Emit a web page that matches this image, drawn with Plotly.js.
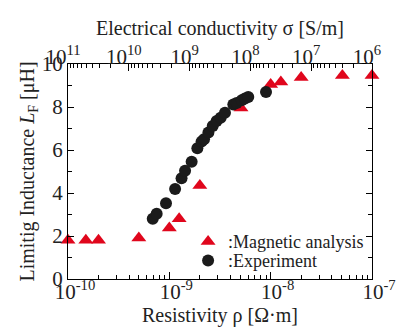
<!DOCTYPE html>
<html><head><meta charset="utf-8">
<script src="https://cdn.plot.ly/plotly-3.0.1.min.js"></script>
<style>html,body{margin:0;padding:0;background:#fff}#chart{width:397px;height:330px}</style>
</head><body><div id="chart"></div>
<script>
// Magnetic analysis (triangles)
const magResistivity = [1e-10, 1.5e-10, 2e-10, 5e-10, 1e-9, 1.25e-9, 2e-9, 5.1e-9, 1e-8, 1.26e-8, 2e-8, 5.1e-8, 1e-7];
const magInductance  = [1.80, 1.80, 1.80, 1.91, 2.37, 2.80, 4.35, 7.95, 9.05, 9.16, 9.37, 9.46, 9.46];
// Experiment (circles)
const expResistivity = [6.86e-10, 7.5e-10, 9.27e-10, 1.14e-9, 1.32e-9, 1.43e-9, 1.66e-9, 1.89e-9, 2.08e-9, 2.20e-9, 2.43e-9, 2.68e-9, 2.93e-9, 3.21e-9, 3.54e-9, 4.28e-9, 4.62e-9, 5.18e-9, 5.58e-9, 6.01e-9, 9.0e-9];
const expInductance  = [2.80, 3.03, 3.52, 4.19, 4.69, 5.03, 5.45, 6.08, 6.39, 6.50, 6.81, 7.12, 7.35, 7.50, 7.73, 8.12, 8.19, 8.31, 8.40, 8.46, 8.70];
// Tick labels
const bottomTickVals = [1e-10, 1e-9, 1e-8, 1e-7];
const bottomTickText = ['10<sup>-10</sup>', '10<sup>-9</sup>', '10<sup>-8</sup>', '10<sup>-7</sup>'];
const topTickVals = [1e11, 1e10, 1e9, 1e8, 1e7, 1e6];
const topTickText = ['10<sup>11</sup>', '10<sup>10</sup>', '10<sup>9</sup>', '10<sup>8</sup>', '10<sup>7</sup>', '10<sup>6</sup>'];
const yTickVals = [0, 2, 4, 6, 8, 10];
const seriesNames = [':Magnetic analysis', ':Experiment'];

const FONT = 'Liberation Serif, Times New Roman, serif';
const TXT = '#222';
const minorX = {ticks: 'inside', ticklen: 4, tickwidth: 1, tickcolor: '#000', dtick: 'D1', showgrid: false};
const minorY = {ticks: 'inside', ticklen: 4, tickwidth: 1, tickcolor: '#000', dtick: 1, showgrid: false};

const traces = [
  {x: magResistivity, y: magInductance, type: 'scatter', mode: 'markers', name: seriesNames[0],
   marker: {symbol: 'triangle-up', size: 13, color: '#e0061c'}, legend: 'legend', cliponaxis: false},
  {x: expResistivity, y: expInductance, type: 'scatter', mode: 'markers', name: seriesNames[1],
   marker: {symbol: 'circle', size: 12, color: '#1b1b1b'}, legend: 'legend2', cliponaxis: false},
  // empty traces so the top (conductivity) axis and right frame axis are created
  {x: [], y: [], type: 'scatter', mode: 'markers', xaxis: 'x2', yaxis: 'y', showlegend: false, hoverinfo: 'skip'},
  {x: [], y: [], type: 'scatter', mode: 'markers', xaxis: 'x', yaxis: 'y2', showlegend: false, hoverinfo: 'skip'}
];

const layout = {
  width: 397, height: 330,
  margin: {l: 68, r: 25, t: 64, b: 51, pad: 0},
  paper_bgcolor: '#fff', plot_bgcolor: '#fff',
  font: {family: FONT, color: TXT, size: 20},
  xaxis: {
    type: 'log', range: [-10, -7],
    tickmode: 'array', tickvals: bottomTickVals, ticktext: bottomTickText,
    ticks: 'inside', ticklen: 7, tickwidth: 1, tickcolor: '#000',
    minor: minorX,
    showline: true, linecolor: '#000', linewidth: 1, mirror: false,
    showgrid: false, zeroline: false,
    tickfont: {family: FONT, size: 21, color: TXT},
    ticklabelshift: 7, ticklabelstandoff: -6,
    title: {text: 'Resistivity ρ [Ω·m]', font: {family: FONT, size: 20, color: TXT}, standoff: 0}
  },
  xaxis2: {
    type: 'log', range: [11, 6], overlaying: 'x', side: 'top', anchor: 'y',
    tickmode: 'array', tickvals: topTickVals, ticktext: topTickText,
    ticks: 'inside', ticklen: 7, tickwidth: 1, tickcolor: '#000',
    minor: minorX,
    showline: true, linecolor: '#000', linewidth: 1,
    showgrid: false, zeroline: false,
    tickfont: {family: FONT, size: 21, color: TXT},
    ticklabelshift: 5, ticklabelstandoff: -9,
    title: {text: 'Electrical conductivity σ [S/m]', font: {family: FONT, size: 20, color: TXT}, standoff: 0}
  },
  yaxis: {
    range: [0, 10],
    tickmode: 'array', tickvals: yTickVals,
    ticks: 'inside', ticklen: 6, tickwidth: 1, tickcolor: '#000',
    minor: minorY,
    showline: true, linecolor: '#000', linewidth: 1, mirror: false,
    showgrid: false, zeroline: false,
    tickfont: {family: FONT, size: 21, color: TXT},
    title: {text: 'Limitig Inductance <i>L</i><sub>F</sub> [μH]', font: {family: FONT, size: 20, color: TXT}, standoff: 1}
  },
  yaxis2: {
    range: [0, 10], overlaying: 'y', side: 'right', anchor: 'x',
    tickmode: 'array', tickvals: yTickVals, showticklabels: false,
    ticks: 'inside', ticklen: 6, tickwidth: 1, tickcolor: '#000',
    minor: minorY,
    showline: true, linecolor: '#000', linewidth: 1,
    showgrid: false, zeroline: false
  },
  legend: {x: 0.395, y: 0.1735, xanchor: 'left', yanchor: 'middle', bgcolor: 'rgba(0,0,0,0)', borderwidth: 0,
           font: {family: FONT, size: 18, color: TXT}},
  legend2: {x: 0.395, y: 0.085, xanchor: 'left', yanchor: 'middle', bgcolor: 'rgba(0,0,0,0)', borderwidth: 0,
           font: {family: FONT, size: 18, color: TXT}},
  showlegend: true
};

Plotly.newPlot('chart', traces, layout, {displayModeBar: false, staticPlot: true});
</script>
</body></html>
